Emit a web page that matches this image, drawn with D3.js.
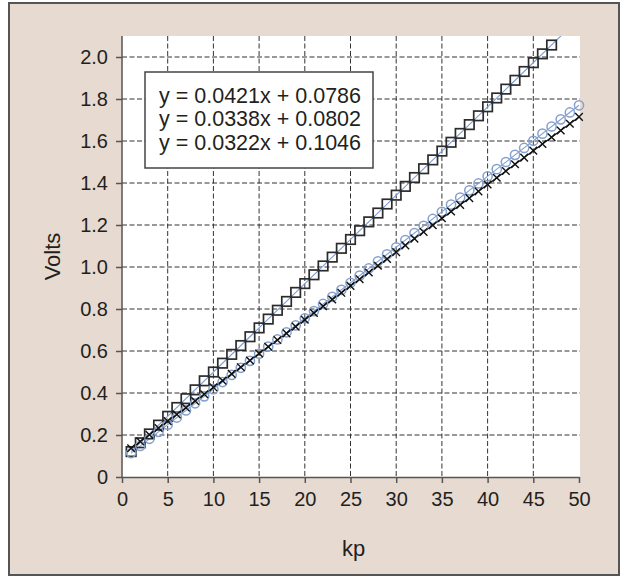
<!DOCTYPE html>
<html><head><meta charset="utf-8">
<script src="https://cdn.jsdelivr.net/npm/d3@7"></script>
<style>
html,body{margin:0;padding:0;background:#fff;}
svg{display:block;font-family:"Liberation Sans",Arial,sans-serif;}
.ax path,.ax line{stroke:#555;stroke-width:1.5;}
.ax text{fill:#231f20;font-size:20px;}
.grid line{stroke:#333;stroke-width:1;stroke-dasharray:5,2.5;}
</style></head>
<body>
<svg id="chart" width="624" height="577"></svg>
<script>
// kp on x, volts on y
const kp=d3.range(1,51);
const sqVolts=[0.121,0.163,0.205,0.247,0.289,0.331,0.373,0.415,0.458,0.500,0.542,0.584,0.626,0.668,0.710,0.752,0.794,0.836,0.879,0.921,
  0.963,1.005,1.047,1.089,1.131,1.173,1.215,1.257,1.300,1.342,1.384,1.426,1.468,1.510,1.552,1.594,1.636,1.678,1.720,1.763,
  1.805,1.847,1.889,1.931,1.973,2.015,2.057];
const circVolts=[0.114,0.148,0.182,0.215,0.249,0.283,0.317,0.351,0.384,0.418,0.452,0.486,0.520,0.553,0.587,0.621,0.655,0.689,0.722,0.756,
  0.790,0.824,0.858,0.891,0.925,0.959,0.993,1.027,1.060,1.094,1.128,1.162,1.196,1.229,1.263,1.297,1.331,1.365,1.398,1.432,
  1.466,1.500,1.534,1.567,1.601,1.635,1.669,1.703,1.736,1.770];
const crossVolts=[0.137,0.169,0.201,0.233,0.266,0.298,0.330,0.362,0.394,0.427,0.459,0.491,0.523,0.555,0.588,0.620,0.652,0.684,0.716,0.749,
  0.781,0.813,0.845,0.877,0.910,0.942,0.974,1.006,1.038,1.071,1.103,1.135,1.167,1.199,1.232,1.264,1.296,1.328,1.360,1.393,
  1.425,1.457,1.489,1.521,1.554,1.586,1.618,1.650,1.682,1.715];
// trendlines, as printed in the box: squares, circles, crosses
const slopes=[0.0421,0.0338,0.0322];
const intercepts=[0.0786,0.0802,0.1046];
const trendColors=['#7f9ed3','#7f9ed3','#111'];
const eqLabels=['y = 0.0421x + 0.0786','y = 0.0338x + 0.0802','y = 0.0322x + 0.1046'];
const xTicks=[0,5,10,15,20,25,30,35,40,45,50];
const yTicks=[0,0.2,0.4,0.6,0.8,1.0,1.2,1.4,1.6,1.8,2.0];
const yTickLabels=['0','0.2','0.4','0.6','0.8','1.0','1.2','1.4','1.6','1.8','2.0'];

const svg=d3.select('#chart');
const L=122,R=579,T=36,B=477;
const x=d3.scaleLinear().domain([0,50]).range([L,R]);
const y=d3.scaleLinear().domain([0,2.1]).range([B,T]);

svg.append('rect').attr('x',9).attr('y',3).attr('width',610).attr('height',572)
  .attr('fill','#e6dad1').attr('stroke','#555').attr('stroke-width',2);
svg.append('rect').attr('x',L).attr('y',T).attr('width',R-L+1).attr('height',B-T).attr('fill','#fff');
svg.append('clipPath').attr('id','clip').append('rect').attr('x',L).attr('y',T).attr('width',R-L+2).attr('height',B-T);

// grid
const grid=svg.append('g').attr('class','grid');
grid.selectAll('.vx').data(xTicks.filter(d=>d>0&&d<50)).enter().append('line')
  .attr('x1',d=>x(d)).attr('x2',d=>x(d)).attr('y1',T).attr('y2',B);
grid.selectAll('.hy').data(yTicks.filter(d=>d>0)).enter().append('line')
  .attr('x1',L).attr('x2',R+1).attr('y1',d=>y(d)).attr('y2',d=>y(d));

const plot=svg.append('g').attr('clip-path','url(#clip)');
// trendlines over x=1..50
slopes.forEach((m,i)=>{
  plot.append('line').attr('x1',x(1)).attr('y1',y(m*1+intercepts[i])).attr('x2',x(50)).attr('y2',y(m*50+intercepts[i]))
    .attr('stroke',trendColors[i]).attr('stroke-width',i==2?1.3:1.1);
});

const sq=9.5;
svg.append('g').selectAll('rect').data(sqVolts).enter().append('rect')
  .attr('x',(d,i)=>x(kp[i])-sq/2).attr('y',d=>y(d)-sq/2).attr('width',sq).attr('height',sq)
  .attr('fill','none').attr('stroke','#2b2b2b').attr('stroke-width',1.7);
svg.append('g').selectAll('circle').data(circVolts).enter().append('circle')
  .attr('cx',(d,i)=>x(kp[i])).attr('cy',d=>y(d)).attr('r',4.6)
  .attr('fill','none').attr('stroke','#86a0cc').attr('stroke-width',1.5);
const cs=3.8;
svg.append('g').selectAll('path').data(crossVolts).enter().append('path')
  .attr('d',(d,i)=>{const cx=x(kp[i]),cy=y(d);return `M${cx-cs},${cy-cs}L${cx+cs},${cy+cs}M${cx-cs},${cy+cs}L${cx+cs},${cy-cs}`;})
  .attr('stroke','#111').attr('stroke-width',1.4).attr('fill','none');

// axes
svg.append('g').attr('class','ax').attr('transform',`translate(0,${B})`)
  .call(d3.axisBottom(x).tickValues(xTicks).tickSize(6).tickSizeOuter(0).tickPadding(9));
svg.append('g').attr('class','ax').attr('transform',`translate(${L},0)`)
  .call(d3.axisLeft(y).tickValues(yTicks).tickFormat((d,i)=>yTickLabels[i]).tickSize(6).tickSizeOuter(0).tickPadding(8))
  .select('.domain').attr('d',`M0,${T}V${B}`);

svg.append('text').attr('x',(L+R)/2+3).attr('y',556).attr('text-anchor','middle')
  .attr('font-size',22).attr('fill','#231f20').text('kp');
svg.append('text').attr('transform',`translate(60,${(T+B)/2}) rotate(-90)`).attr('text-anchor','middle')
  .attr('font-size',22).attr('fill','#231f20').text('Volts');

// equation box
svg.append('rect').attr('x',145).attr('y',72).attr('width',228).attr('height',96)
  .attr('fill','#fff').attr('stroke','#444').attr('stroke-width',1.5);
svg.append('g').selectAll('text').data(eqLabels).enter().append('text')
  .attr('x',159).attr('y',(d,i)=>102.5+i*23.5).attr('font-size',21.5).attr('fill','#231f20').text(d=>d);
</script>
</body></html>
